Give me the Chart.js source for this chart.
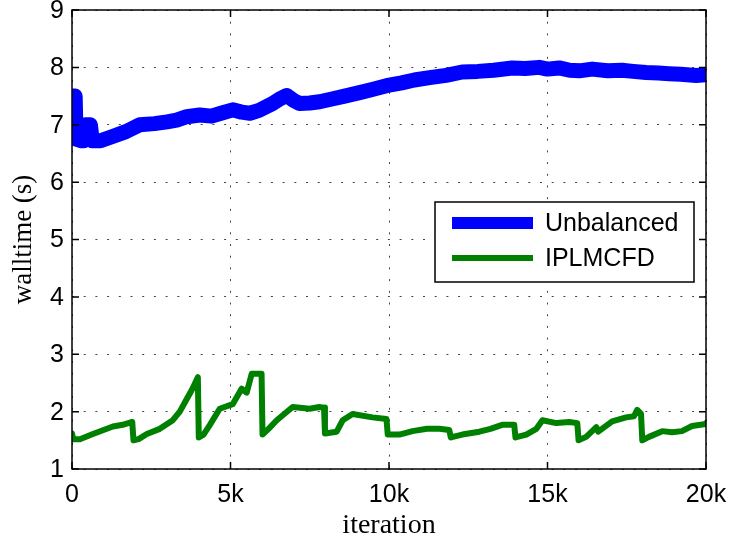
<!DOCTYPE html>
<html>
<head>
<meta charset="utf-8">
<script src="https://cdn.jsdelivr.net/npm/chart.js@4.4.1/dist/chart.umd.min.js"></script>
<style>
html,body{margin:0;padding:0;background:#fff;}
#wrap{width:730px;height:542px;position:relative;}
</style>
</head>
<body>
<div id="wrap"><canvas id="c" width="730" height="542"></canvas></div>
<script>
// ---- data ----
const seriesNames = ['Unbalanced', 'IPLMCFD'];
const xTickValues = [0, 5000, 10000, 15000, 20000];
const xTickLabels = ['0', '5k', '10k', '15k', '20k'];
const yTickValues = [1, 2, 3, 4, 5, 6, 7, 8, 9];

const unbalancedIter = [0, 100, 130, 300, 380, 420, 580, 640, 900, 1300, 1700, 2140, 2600, 3000, 3300, 3620, 4030, 4400, 4700, 5070, 5350, 5610, 5900, 6330, 6550, 6770, 7000, 7180, 7500, 7810, 8200, 8600, 9070, 9500, 9920, 10400, 10800, 11280, 11800, 12310, 12800, 13300, 13890, 14300, 14740, 15000, 15370, 15700, 16000, 16410, 16900, 17350, 17700, 18110, 18500, 18830, 19200, 19690, 20000];
const unbalancedTime = [7.5, 7.5, 6.75, 6.72, 6.72, 7.0, 7.0, 6.72, 6.72, 6.8, 6.88, 7.0, 7.02, 7.05, 7.08, 7.14, 7.17, 7.15, 7.2, 7.26, 7.22, 7.2, 7.25, 7.37, 7.45, 7.51, 7.42, 7.37, 7.38, 7.4, 7.45, 7.5, 7.56, 7.62, 7.68, 7.73, 7.78, 7.82, 7.86, 7.92, 7.93, 7.95, 7.99, 7.98, 8.0, 7.97, 7.99, 7.95, 7.94, 7.97, 7.94, 7.95, 7.93, 7.91, 7.9, 7.89, 7.88, 7.86, 7.87];

const iplmcfdIter = [0, 40, 250, 660, 1290, 1600, 1900, 1940, 2100, 2360, 2770, 3180, 3400, 3620, 3800, 3970, 4000, 4150, 4350, 4660, 5070, 5350, 5510, 5670, 5980, 6010, 6200, 6460, 6960, 7500, 7800, 7950, 7980, 8350, 8540, 8850, 9480, 9920, 9960, 10330, 10740, 11200, 11590, 11900, 11950, 12310, 12850, 13200, 13570, 13950, 13990, 14330, 14650, 14840, 15280, 15690, 15940, 15980, 16220, 16540, 16600, 17040, 17480, 17730, 17830, 17950, 17990, 18200, 18620, 18930, 19240, 19560, 19940, 20000];
const iplmcfdTime = [1.62, 1.52, 1.52, 1.61, 1.74, 1.77, 1.82, 1.5, 1.52, 1.61, 1.7, 1.85, 2.0, 2.22, 2.4, 2.6, 1.55, 1.6, 1.77, 2.05, 2.13, 2.4, 2.33, 2.66, 2.66, 1.6, 1.7, 1.85, 2.08, 2.05, 2.08, 2.07, 1.62, 1.65, 1.85, 1.96, 1.9, 1.87, 1.6, 1.6, 1.66, 1.7, 1.7, 1.68, 1.55, 1.6, 1.65, 1.7, 1.77, 1.77, 1.55, 1.6, 1.7, 1.85, 1.8, 1.82, 1.8, 1.5, 1.56, 1.73, 1.65, 1.83, 1.9, 1.92, 2.03, 1.96, 1.5, 1.56, 1.66, 1.64, 1.66, 1.75, 1.78, 1.8];

const toPts = (xs, ys) => xs.map((x, i) => ({x: x, y: ys[i]}));

Chart.defaults.font.family = '"Liberation Sans", Arial, sans-serif';
Chart.defaults.color = '#000';

const boxPlugin = {
  id: 'boxPlugin',
  afterDatasetsDraw(chart) {
    const ctx = chart.ctx, a = chart.chartArea;
    const xs = chart.scales.x, ys = chart.scales.y;
    ctx.save();
    ctx.strokeStyle = '#000';
    ctx.lineWidth = 1.5;
    ctx.strokeRect(a.left, a.top, a.right - a.left, a.bottom - a.top);
    const L = 7;
    ctx.beginPath();
    xTickValues.forEach(v => {
      const px = xs.getPixelForValue(v);
      ctx.moveTo(px, a.bottom); ctx.lineTo(px, a.bottom - L);
      ctx.moveTo(px, a.top); ctx.lineTo(px, a.top + L);
    });
    yTickValues.forEach(v => {
      const py = ys.getPixelForValue(v);
      ctx.moveTo(a.left, py); ctx.lineTo(a.left + L, py);
      ctx.moveTo(a.right, py); ctx.lineTo(a.right - L, py);
    });
    ctx.stroke();
    ctx.restore();
  },
  afterDraw(chart) {
    const ctx = chart.ctx;
    const bx = 435, by = 202, bw = 259, bh = 80;
    ctx.save();
    ctx.fillStyle = '#fff';
    ctx.fillRect(bx, by, bw, bh);
    ctx.strokeStyle = '#000';
    ctx.lineWidth = 1.5;
    ctx.strokeRect(bx, by, bw, bh);
    const rows = [223, 258];
    chart.data.datasets.forEach((ds, i) => {
      ctx.strokeStyle = ds.borderColor;
      ctx.lineWidth = i === 0 ? 12 : 6;
      ctx.lineCap = 'butt';
      ctx.beginPath();
      ctx.moveTo(452, rows[i]); ctx.lineTo(533, rows[i]);
      ctx.stroke();
      ctx.fillStyle = '#000';
      ctx.font = '25px "Liberation Sans", Arial, sans-serif';
      ctx.textBaseline = 'middle';
      ctx.textAlign = 'left';
      ctx.fillText(ds.label, 545, rows[i] + 1);
    });
    ctx.restore();
  }
};

new Chart(document.getElementById('c'), {
  type: 'line',
  data: {
    datasets: [
      {label: seriesNames[0], data: toPts(unbalancedIter, unbalancedTime), borderColor: '#0000ff', borderWidth: 15, pointRadius: 0, tension: 0, borderJoinStyle: 'round', borderCapStyle: 'round'},
      {label: seriesNames[1], data: toPts(iplmcfdIter, iplmcfdTime), borderColor: '#008000', borderWidth: 6, pointRadius: 0, tension: 0, borderJoinStyle: 'round', borderCapStyle: 'round'}
    ]
  },
  options: {
    responsive: false,
    animation: false,
    layout: {padding: {top: 10, right: 24, left: 0, bottom: 0}},
    plugins: {legend: {display: false}, tooltip: {enabled: false}},
    scales: {
      x: {
        type: 'linear', min: 0, max: 20000,
        afterBuildTicks: (s) => { s.ticks = xTickValues.map(v => ({value: v})); },
        afterFit: (s) => { s.height = 73; s.paddingLeft = 0; s.paddingRight = 0; },
        ticks: {
          font: {size: 25}, color: '#000', padding: 11, maxRotation: 0,
          callback: (v) => xTickLabels[xTickValues.indexOf(v)]
        },
        grid: {color: '#444', lineWidth: 1, drawTicks: false},
        border: {display: false, dash: [2, 9.7]},
        title: {display: true, text: 'iteration', font: {family: '"Liberation Serif", "Times New Roman", serif', size: 28}, color: '#000', padding: {top: 0, bottom: 0}}
      },
      y: {
        type: 'linear', min: 1, max: 9,
        afterBuildTicks: (s) => { s.ticks = yTickValues.map(v => ({value: v})); },
        afterFit: (s) => { s.width = 72; s.paddingTop = 0; s.paddingBottom = 0; },
        ticks: {font: {size: 25}, color: '#000', padding: 8, labelOffset: 1},
        grid: {color: '#444', lineWidth: 1, drawTicks: false},
        border: {display: false, dash: [2, 9.7]},
        title: {display: true, text: 'walltime (s)', font: {family: '"Liberation Serif", "Times New Roman", serif', size: 27}, color: '#000', padding: {top: 8, bottom: 0}}
      }
    }
  },
  plugins: [boxPlugin]
});
</script>
</body>
</html>
